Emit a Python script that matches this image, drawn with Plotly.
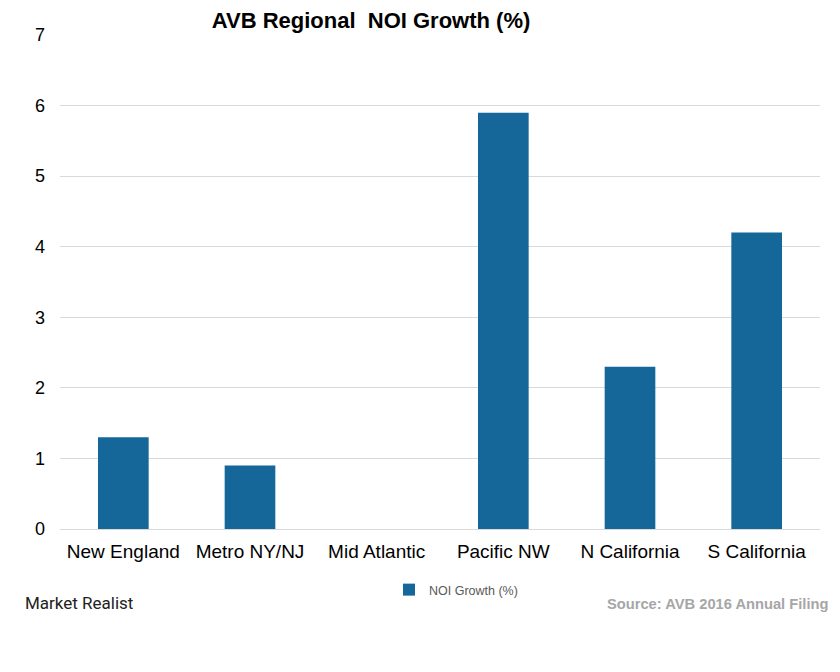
import plotly.graph_objects as go

categories = ["New England", "Metro NY/NJ", "Mid Atlantic", "Pacific NW", "N California", "S California"]
noi_growth = [1.3, 0.9, 0.0, 5.9, 2.3, 4.2]
y_ticks = [0, 1, 2, 3, 4, 5, 6, 7]

# page body has an 8px default margin, so the figure is offset by 8px
OFF = 8
W, H = 840 - OFF, 672 - OFF
L, R, T, B = 60 - OFF, 20, 35 - OFF, 143
pw, ph = W - L - R, H - T - B

def px_x(x):
    return (x - OFF - L) / pw

def px_y(y):
    return (H - B - (y - OFF)) / ph

fig = go.Figure()
fig.add_trace(go.Bar(
    x=categories, y=noi_growth, name="NOI Growth (%)",
    marker=dict(color="#15679A", line=dict(width=0)),
))

fig.update_layout(
    width=W, height=H,
    margin=dict(l=L, r=R, t=T, b=B, autoexpand=False),
    paper_bgcolor="white", plot_bgcolor="white",
    bargap=0.6,
    font=dict(family="Arial, Liberation Sans, sans-serif", color="black"),
    title=dict(text="<b>AVB Regional  NOI Growth (%)</b>", x=px_x(371), xanchor="center",
               xref="paper", yref="container", y=1 - (20 - OFF) / H, yanchor="middle",
               font=dict(size=22, color="black")),
    xaxis=dict(tickfont=dict(size=19, color="black"), showgrid=False, showline=False,
               ticks="", ticklen=0, ticklabelstandoff=9),
    yaxis=dict(range=[0, 7], tickvals=y_ticks, tickfont=dict(size=18, color="black"),
               showgrid=True, gridcolor="#D9D9D9", gridwidth=1, zeroline=True,
               zerolinecolor="#D9D9D9", zerolinewidth=1, showline=False, ticks="",
               ticklabelstandoff=14),
    showlegend=True,
    legend=dict(orientation="h", x=px_x(456), xanchor="center", y=px_y(590), yanchor="middle",
                font=dict(size=12.5, color="#595959"), itemwidth=30),
)

fig.add_annotation(text="Market Realist", xref="paper", yref="paper",
                   x=px_x(23), y=px_y(603), xanchor="left", yanchor="middle",
                   showarrow=False, font=dict(size=17, color="#222222", family="Roboto, sans-serif"))
fig.add_annotation(text="<b>Source: AVB 2016 Annual Filing</b>", xref="paper", yref="paper",
                   x=px_x(830), y=px_y(604), xanchor="right", yanchor="middle",
                   showarrow=False, font=dict(size=14.7, color="#A6A6A6"))

fig.write_html("out.html")
